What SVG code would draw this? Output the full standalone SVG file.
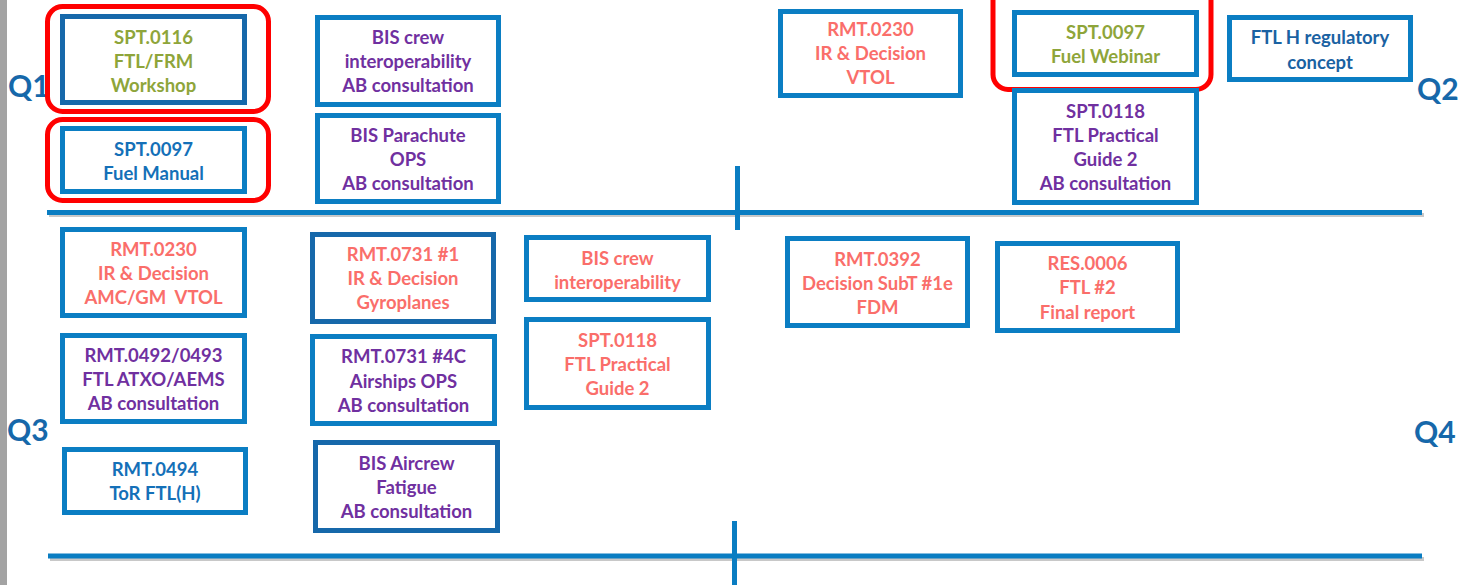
<svg xmlns="http://www.w3.org/2000/svg" width="1461" height="585" viewBox="0 0 1461 585">
<style>
.box{fill:#fff;stroke:#0b7ec3;stroke-width:5}
.dk{stroke:#1668aa}
.hl{fill:none;stroke:#ff0000;stroke-width:5}
text{font-family:Lato,"Liberation Sans",sans-serif;font-weight:700;font-size:18.5px;text-anchor:middle;white-space:pre}
.g{fill:#8ea53a}.p{fill:#7030a0}.s{fill:#fa6e6a}.b{fill:#1470b8}.b2{fill:#1a62a2}
.q{font-size:30px;fill:#1668aa;text-anchor:start}
.ax{stroke:#0a7dc2;stroke-width:5}
.sh{stroke:#c8c8c8;stroke-width:4}
</style>
<rect x="0" y="0" width="1461" height="585" fill="#fff"/>
<rect x="0" y="0" width="7" height="585" fill="#a3a3a3"/>
<g id="connectors">
<line class="sh" x1="49" y1="215" x2="1424" y2="215"/>
<line class="ax" x1="47" y1="212.5" x2="1422" y2="212.5"/>
<line class="ax" x1="737.5" y1="166" x2="737.5" y2="230"/>
<line class="sh" x1="50" y1="559" x2="1424" y2="559"/>
<line class="ax" x1="48" y1="556" x2="1422" y2="556"/>
<line class="ax" x1="734.5" y1="521" x2="734.5" y2="585"/>
</g>
<g id="labels">
<text class="q" x="8" y="97">Q1</text>
<text class="q" x="1417" y="100">Q2</text>
<text class="q" x="7" y="441">Q3</text>
<text class="q" x="1414" y="443">Q4</text>
</g>
<g id="hl1"><rect class="hl" x="47.5" y="6.5" width="221" height="105" rx="15"/></g>
<g id="hl2"><rect class="hl" x="47.5" y="119.5" width="221" height="81" rx="15"/></g>
<g id="hl3"><rect class="hl" x="993" y="-20" width="218" height="109.5" rx="15"/></g>
<g id="n1"><rect class="box dk" x="62.5" y="16.5" width="182" height="86"/>
<text class="g" x="153.5" y="43.5">SPT.0116</text><text class="g" x="153.5" y="67.5">FTL/FRM</text><text class="g" x="153.5" y="91.5">Workshop</text></g>
<g id="n2"><rect class="box" x="62.5" y="128.5" width="182" height="63"/>
<text class="b" x="153.5" y="155.5">SPT.0097</text><text class="b" x="153.5" y="179.5">Fuel Manual</text></g>
<g id="n3"><rect class="box" x="317.5" y="17.5" width="181" height="87"/>
<text class="p" x="408" y="43.5">BIS crew</text><text class="p" x="408" y="67.5">interoperability</text><text class="p" x="408" y="91.5">AB consultation</text></g>
<g id="n4"><rect class="box" x="317.5" y="115.5" width="181" height="86"/>
<text class="p" x="408" y="141.5">BIS Parachute</text><text class="p" x="408" y="165.5">OPS</text><text class="p" x="408" y="189.5">AB consultation</text></g>
<g id="n5"><rect class="box" x="780.5" y="11.5" width="180" height="84"/>
<text class="s" x="870.5" y="35.5">RMT.0230</text><text class="s" x="870.5" y="59.5">IR &amp; Decision</text><text class="s" x="870.5" y="83.5">VTOL</text></g>
<g id="n6"><rect class="box" x="1014.5" y="12.5" width="182" height="62"/>
<text class="g" x="1105.5" y="38.5">SPT.0097</text><text class="g" x="1105.5" y="62.5">Fuel Webinar</text></g>
<g id="n7"><rect class="box" x="1229.5" y="17.5" width="181" height="62"/>
<text class="b2" x="1320" y="43.5">FTL H regulatory</text><text class="b2" x="1320" y="68.5">concept</text></g>
<g id="n8"><rect class="box" x="1014.5" y="90.5" width="182" height="112"/>
<text class="p" x="1105.5" y="117.5">SPT.0118</text><text class="p" x="1105.5" y="141.5">FTL Practical</text><text class="p" x="1105.5" y="165.5">Guide 2</text><text class="p" x="1105.5" y="189.5">AB consultation</text></g>
<g id="n9"><rect class="box" x="62.5" y="229.5" width="182" height="86"/>
<text class="s" x="153.5" y="255.5">RMT.0230</text><text class="s" x="153.5" y="279.5">IR &amp; Decision</text><text class="s" x="153.5" y="303.5">AMC/GM  VTOL</text></g>
<g id="n10"><rect class="box dk" x="312.5" y="234.5" width="181" height="87"/>
<text class="s" x="403" y="260.5">RMT.0731 #1</text><text class="s" x="403" y="284.5">IR &amp; Decision</text><text class="s" x="403" y="308.5">Gyroplanes</text></g>
<g id="n11"><rect class="box" x="526.5" y="237.5" width="182" height="62"/>
<text class="s" x="617.5" y="264.5">BIS crew</text><text class="s" x="617.5" y="288.5">interoperability</text></g>
<g id="n12"><rect class="box" x="526.5" y="319.5" width="182" height="88"/>
<text class="s" x="617.5" y="346.5">SPT.0118</text><text class="s" x="617.5" y="370.5">FTL Practical</text><text class="s" x="617.5" y="394.5">Guide 2</text></g>
<g id="n13"><rect class="box" x="787.5" y="238.5" width="180" height="87"/>
<text class="s" x="877.5" y="265.5">RMT.0392</text><text class="s" x="877.5" y="289.5">Decision SubT #1e</text><text class="s" x="877.5" y="313.5">FDM</text></g>
<g id="n14"><rect class="box" x="997.5" y="243.5" width="180" height="87"/>
<text class="s" x="1087.5" y="269.5">RES.0006</text><text class="s" x="1087.5" y="293.5">FTL #2</text><text class="s" x="1087.5" y="318.5">Final report</text></g>
<g id="n15"><rect class="box" x="62.5" y="335.5" width="182" height="86"/>
<text class="p" x="153.5" y="361.5">RMT.0492/0493</text><text class="p" x="153.5" y="385.5">FTL ATXO/AEMS</text><text class="p" x="153.5" y="409.5">AB consultation</text></g>
<g id="n16"><rect class="box" x="312.5" y="336.5" width="182" height="87"/>
<text class="p" x="403.5" y="362.5">RMT.0731 #4C</text><text class="p" x="403.5" y="387.5">Airships OPS</text><text class="p" x="403.5" y="411.5">AB consultation</text></g>
<g id="n17"><rect class="box" x="64.5" y="449.5" width="181" height="63"/>
<text class="b" x="155" y="475.5">RMT.0494</text><text class="b" x="155" y="499.5">ToR FTL(H)</text></g>
<g id="n18"><rect class="box dk" x="315.5" y="442.5" width="182" height="88"/>
<text class="p" x="406.5" y="469.5">BIS Aircrew</text><text class="p" x="406.5" y="493.5">Fatigue</text><text class="p" x="406.5" y="517.5">AB consultation</text></g>
</svg>
